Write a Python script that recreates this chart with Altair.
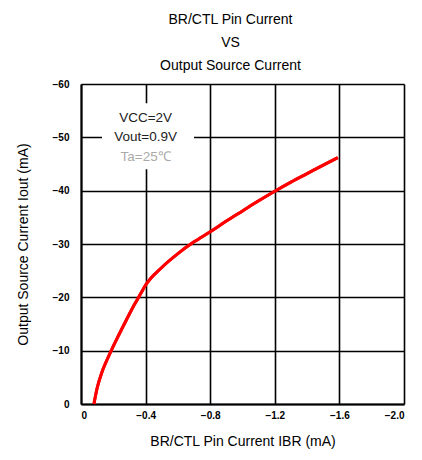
import altair as alt
import pandas as pd

ibr = [-0.08, -0.10, -0.13, -0.16, -0.19, -0.23, -0.28, -0.33, -0.37, -0.40,
       -0.50, -0.60, -0.70, -0.80, -0.90, -1.00, -1.10, -1.20, -1.30, -1.40, -1.50, -1.59]
iout = [0, -3.0, -6.0, -8.2, -10.2, -12.7, -15.7, -18.6, -20.7, -22.3,
        -25.6, -28.2, -30.4, -32.3, -34.3, -36.2, -38.1, -39.9, -41.6, -43.2, -44.8, -46.2]

x_ticks = [0, -0.4, -0.8, -1.2, -1.6, -2.0]
y_ticks = [0, -10, -20, -30, -40, -50, -60]

note_lines = ["VCC=2V", "Vout=0.9V", "Ta=25\u2103"]
note_x = [-0.4, -0.4, -0.4]
note_y = [-53.7, -50.0, -46.3]
note_color = ["#222222", "#222222", "#aaaaaa"]
box_x = [-0.13]
box_x2 = [-0.70]
box_y = [-56.4]
box_y2 = [-44.0]

curve = pd.DataFrame({"ibr": ibr, "iout": iout})
notes = pd.DataFrame({"t": note_lines, "x": note_x, "y": note_y, "c": note_color})
box = pd.DataFrame({"x": box_x, "x2": box_x2, "y": box_y, "y2": box_y2})

xs = alt.Scale(domain=[0, -2.0], nice=False, zero=False)
ys = alt.Scale(domain=[0, -60], nice=False, zero=False)

xaxis = alt.Axis(values=x_ticks, labelExpr="datum.value == 0 ? '0' : format(datum.value, '.1f')",
                 grid=True, gridColor="black", gridWidth=1.6, gridOpacity=1,
                 domainColor="black", domainWidth=2, ticks=False, labelPadding=6,
                 labelFontWeight="bold", labelFontSize=10, labelColor="black", labelFont="Liberation Sans",
                 title="BR/CTL Pin Current IBR (mA)", titleFont="Liberation Sans", titleFontSize=14,
                 titleFontWeight="normal", titleColor="black", titlePadding=14)
yaxis = alt.Axis(values=y_ticks, format="d",
                 grid=True, gridColor="black", gridWidth=1.6, gridOpacity=1,
                 domainColor="black", domainWidth=2, ticks=False, labelPadding=12,
                 labelFontWeight="bold", labelFontSize=10, labelColor="black", labelFont="Liberation Sans",
                 title="Output Source Current Iout (mA)", titleFont="Liberation Sans", titleFontSize=14,
                 titleFontWeight="normal", titleColor="black", titlePadding=22)

base_line = alt.Chart(curve).mark_line(color="#ff0000", strokeWidth=3, interpolate="monotone").encode(
    x=alt.X("ibr:Q", scale=xs, axis=xaxis),
    y=alt.Y("iout:Q", scale=ys, axis=yaxis),
)

rect = alt.Chart(box).mark_rect(color="white").encode(
    x=alt.X("x:Q", scale=xs), x2="x2:Q", y=alt.Y("y:Q", scale=ys), y2="y2:Q"
)

txt = alt.Chart(notes).mark_text(font="Liberation Sans", fontSize=13.5).encode(
    x=alt.X("x:Q", scale=xs), y=alt.Y("y:Q", scale=ys), text="t:N",
    color=alt.Color("c:N", scale=None)
)

chart = alt.layer(base_line, rect, txt, base_line).properties(
    width=323, height=320,
    padding={"left": 8, "top": 5, "right": 5, "bottom": 5},
    title=alt.TitleParams(text=["BR/CTL Pin Current", "VS", "Output Source Current"],
                          font="Liberation Sans", fontSize=14, fontWeight="normal", color="black",
                          anchor="middle", frame="group", dx=-12, lineHeight=23, offset=6),
).configure_view(stroke="black", strokeWidth=2).configure(background="white")

chart.save("out.html", embed_options={"renderer": "svg", "actions": False})
